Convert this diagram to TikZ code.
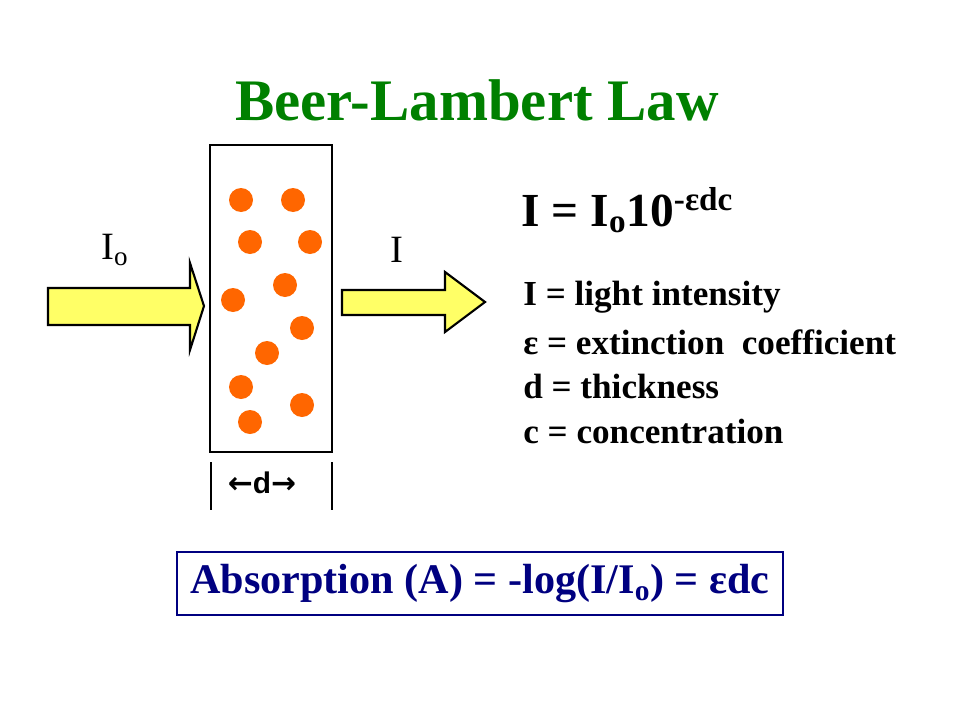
\documentclass[tikz,border=0pt]{standalone}
\usepackage{fontspec}
\setmainfont{Liberation Serif}
\setsansfont{Liberation Sans}
\newfontfamily\arrowfont{DejaVu Sans}
\usetikzlibrary{positioning}
\definecolor{titlegreen}{RGB}{0,128,0}
\definecolor{dotorange}{RGB}{255,102,0}
\definecolor{beamyellow}{RGB}{255,255,102}
\definecolor{boxnavy}{RGB}{0,0,128}
\tikzset{
  beam/.style={draw=black,fill=beamyellow,line width=1.2pt,line join=miter},
  dot/.style={circle,fill=dotorange,inner sep=0pt,minimum size=24*0.02cm},
  defline/.style={anchor=west,font=\fontsize{20}{22}\selectfont\bfseries,inner sep=0pt}
}
\begin{document}
\begin{tikzpicture}[x=0.02cm,y=-0.02cm]
  \useasboundingbox (0,0) rectangle (960,720);
  % Title
  \node[font=\fontsize{33.5}{38}\selectfont\bfseries,text=titlegreen] (title) at (477,100) {Beer-Lambert Law};

  % Cuvette and particles
  \draw[line width=1.7pt] (210,145) rectangle (332,452);
  \foreach \x/\y [count=\i] in {241/200,293/200,250/242,310/242,285/285,233/300,302/328,267/353,241/387,302/405,250/422}
    \node[dot] (p\i) at (\x,\y) {};

  % Light beams
  \draw[beam] (48,288) -- (190,288) -- (190,263) -- (204,306) -- (190,350) -- (190,325) -- (48,325) -- cycle;
  \draw[beam] (342,290) -- (445,290) -- (445,272) -- (485,302) -- (445,332) -- (445,315) -- (342,315) -- cycle;
  \node[font=\fontsize{22}{24}\selectfont] (Iin) at (115,250) {I\textsubscript{o}};
  \node[font=\fontsize{22}{24}\selectfont] (Iout) at (397,250) {I};

  % Path length
  \draw[line width=1.7pt] (211,462) -- (211,510);
  \draw[line width=1.7pt] (332,462) -- (332,510);
  \node[font=\sffamily\fontsize{17}{20}\selectfont\bfseries] (d) at (262,483) {{\arrowfont\bfseries←}d{\arrowfont\bfseries→}};

  % Law and definitions
  \node[anchor=west,inner sep=0pt,font=\fontsize{27}{30}\selectfont\bfseries] (law) at (521,210) {I = I\textsubscript{o}10\textsuperscript{-εdc}};
  \node[defline] (def1) at (523,297) {I = light intensity};
  \node[defline] (def2) at (523,342) {ε = extinction\ \ coefficient};
  \node[defline] (def3) at (523,386) {d = thickness};
  \node[defline] (def4) at (523,431) {c = concentration};

  % Absorbance
  \draw[boxnavy,line width=1.3pt] (177,552) rectangle (783,615);
  \node[text=boxnavy,font=\fontsize{24}{26}\selectfont\bfseries] (absorb) at (480,584) {Absorption (A) = -log(I/I\textsubscript{o}) = εdc};
\end{tikzpicture}
\end{document}
